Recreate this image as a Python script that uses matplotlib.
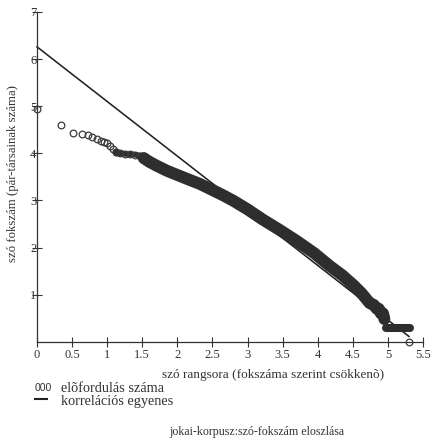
import matplotlib
matplotlib.use("Agg")
import matplotlib.pyplot as plt
from matplotlib.lines import Line2D

plt.rcParams["font.family"] = ["Liberation Serif", "DejaVu Serif"]

# log10(rank) vs log10(frequency) -- individual high-frequency words
sparse_x = [0.00, 0.34, 0.51, 0.64, 0.72, 0.79, 0.85, 0.91, 0.95, 1.00, 1.04, 1.08, 1.12]
sparse_y = [4.93, 4.60, 4.44, 4.41, 4.39, 4.35, 4.30, 4.26, 4.23, 4.21, 4.15, 4.09, 4.03]

# dense head of the band (still thin)
head_x = [1.12, 1.18, 1.25, 1.32, 1.40, 1.47, 1.52]
head_y = [4.03, 4.00, 3.99, 3.98, 3.97, 3.95, 3.90]

# dense main band
band_x = [1.52, 1.60, 1.70, 1.85, 2.00, 2.15, 2.32, 2.50, 2.65, 2.80, 3.00, 3.22,
          3.45, 3.70, 3.95, 4.17, 4.35, 4.51, 4.63, 4.74, 4.80, 4.84, 4.87, 4.90,
          4.93, 4.95]
band_y = [3.90, 3.82, 3.74, 3.63, 3.54, 3.45, 3.35, 3.22, 3.11, 2.99, 2.81, 2.59,
          2.38, 2.14, 1.88, 1.61, 1.41, 1.20, 1.02, 0.82, 0.78, 0.70, 0.70, 0.60,
          0.60, 0.48]

# low-frequency tail (frequency 2) and the single frequency-1 point
tail_x = [4.97, 5.05, 5.15, 5.25, 5.31]
tail_y = [0.30, 0.30, 0.30, 0.30, 0.30]
last_x = [5.30]
last_y = [0.00]

# fitted regression line
fit_intercept = 6.26
fit_slope = -1.16
fit_x = [0.0, 5.30]

x_ticks = [0, 0.5, 1, 1.5, 2, 2.5, 3, 3.5, 4, 4.5, 5, 5.5]
x_tick_labels = ["0", "0.5", "1", "1.5", "2", "2.5", "3", "3.5", "4", "4.5", "5", "5.5"]
y_ticks = [1, 2, 3, 4, 5, 6, 7]
y_tick_labels = ["1", "2", "3", "4", "5", "6", "7"]

ink = "#2e2e2e"
grey = "#333333"

fig = plt.figure(figsize=(4.36, 4.42), dpi=100)
W, H = 436, 442
ax = fig.add_axes([37 / W, 1 - 341.7 / H, 386 / W, (341.7 - 12) / H])
ax.set_xlim(0, 5.5)
ax.set_ylim(0, 7)
for s in ("top", "right"):
    ax.spines[s].set_visible(False)
for s in ("left", "bottom"):
    ax.spines[s].set_color(grey)
    ax.spines[s].set_linewidth(0.9)

ax.set_xticks(x_ticks)
ax.set_xticklabels(x_tick_labels)
ax.set_yticks(y_ticks)
ax.set_yticklabels(y_tick_labels)
ax.tick_params(direction="inout", length=7, width=0.8, colors=grey,
               labelsize=9, labelcolor=grey)
ax.tick_params(axis="y", pad=-3)
ax.tick_params(axis="x", pad=2)

# regression line
fit_y = [fit_intercept + fit_slope * v for v in fit_x]
ax.plot(fit_x, fit_y, color="#222222", lw=1.15, zorder=2, clip_on=False)

# occurrence data
mk = dict(marker="o", ms=4.8, mfc="none", mec="#3a3a3a", mew=0.9, ls="none",
          clip_on=False, zorder=3)
ax.plot(sparse_x, sparse_y, **mk)
ax.plot(head_x, head_y, color=ink, lw=4.2, solid_capstyle="round", zorder=3)
ax.plot(head_x, head_y, **mk)
ax.plot(band_x, band_y, color=ink, lw=8.6, solid_capstyle="round",
        solid_joinstyle="round", zorder=3)
ax.plot(tail_x, tail_y, color=ink, lw=5.8, solid_capstyle="round", zorder=3)
ax.plot(last_x, last_y, **mk)

# axis titles
fig.text(273 / W, 1 - 375 / H, "szó rangsora (fokszáma szerint csökkenõ)",
         ha="center", va="center", fontsize=9.5, color=grey)
fig.text(13 / W, 1 - 174 / H, "szó fokszám (pár-társainak száma)",
         rotation=90, ha="center", va="center", fontsize=9.2, color=grey)

# key
fig.text(35 / W, 1 - 388 / H, "000", ha="left", va="center", fontsize=7.6,
         family=["Liberation Sans", "DejaVu Sans"], color=grey)
fig.text(61 / W, 1 - 388 / H, "elõfordulás száma", ha="left", va="center",
         fontsize=10.3, color=grey)
fig.add_artist(Line2D([35 / W, 47 / W], [1 - 399 / H, 1 - 399 / H],
                      color="#222222", lw=1.5, transform=fig.transFigure))
fig.text(61 / W, 1 - 401.5 / H, "korrelációs egyenes", ha="left", va="center",
         fontsize=10.3, color=grey)

fig.text(257 / W, 1 - 431.7 / H, "jokai-korpusz:szó-fokszám eloszlása",
         ha="center", va="center", fontsize=8.6, color=grey)

fig.savefig("out.png", dpi=100, facecolor="white")
